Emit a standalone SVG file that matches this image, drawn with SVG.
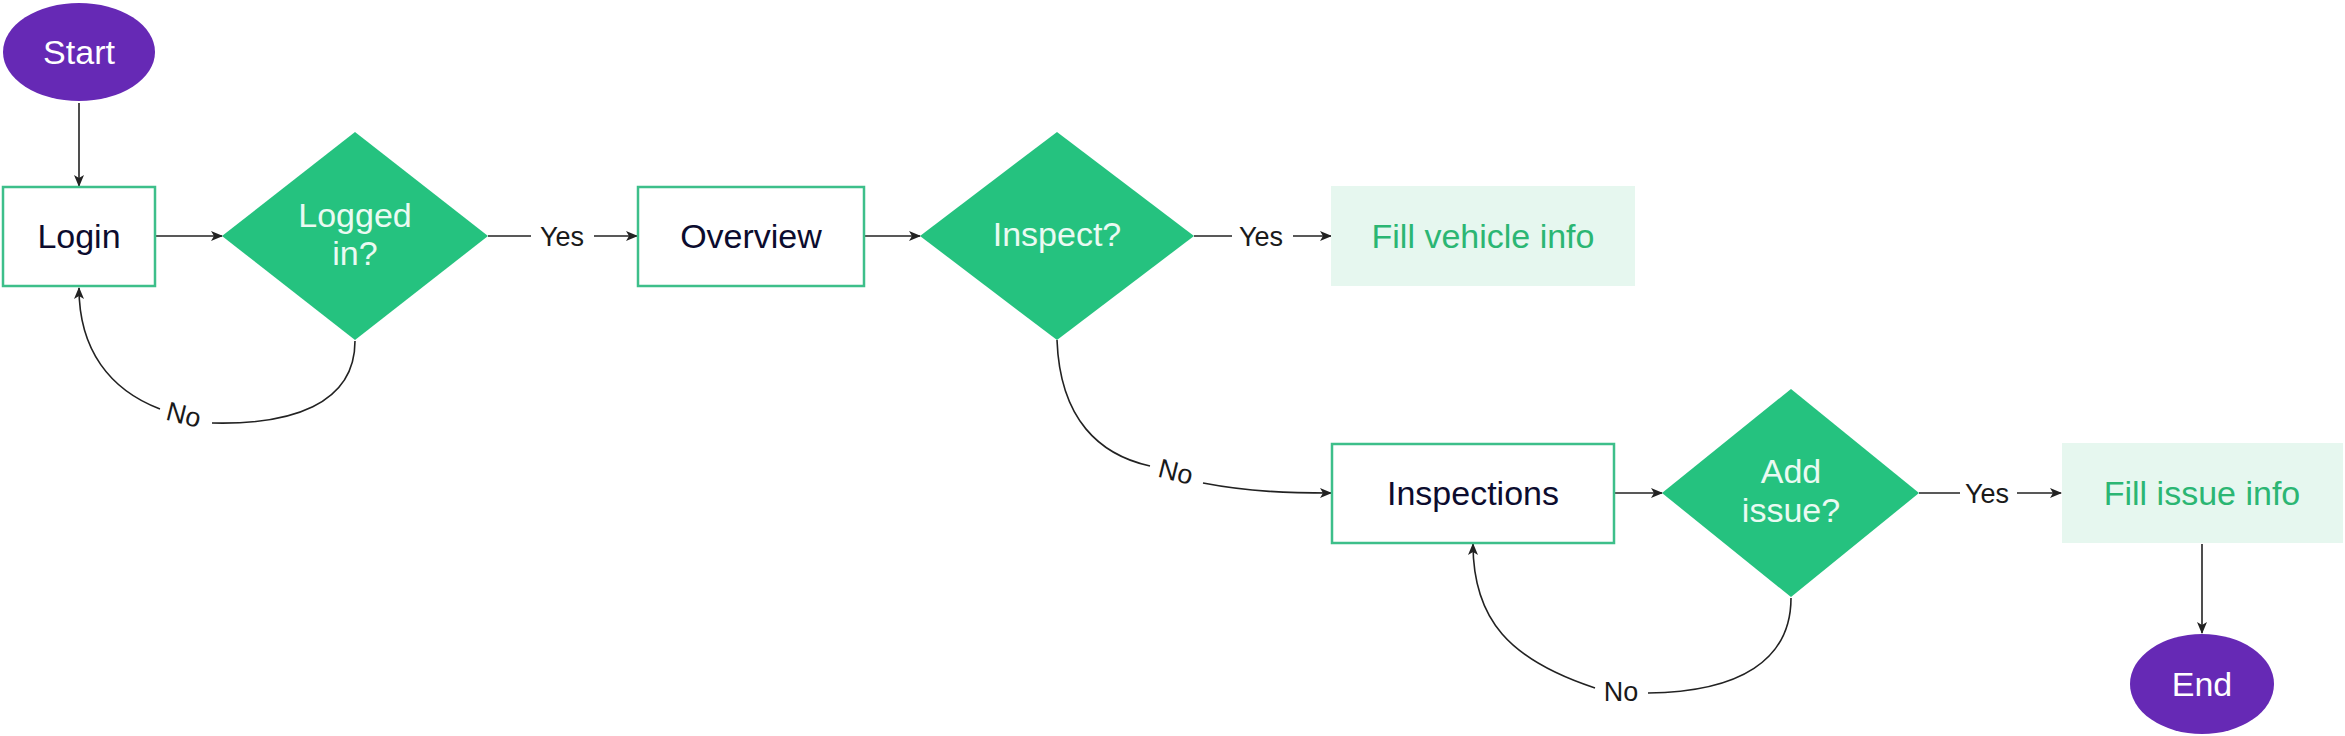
<svg xmlns="http://www.w3.org/2000/svg" width="2345" height="736" viewBox="0 0 2345 736">
<defs>
<marker id="arr" markerUnits="userSpaceOnUse" markerWidth="12" markerHeight="10" refX="11" refY="5" orient="auto">
<path d="M0,0 L12,5 L0,10 L3,5 z" fill="#222"/>
</marker>
<style>
.term{fill:#6629b5}
.termtxt{font-family:"Liberation Sans",Arial,sans-serif;font-size:34px;fill:#ffffff;text-anchor:middle}
.box{fill:#ffffff;stroke:#3dbf8a;stroke-width:2.5}
.boxtxt{font-family:"Liberation Sans",Arial,sans-serif;font-size:34px;fill:#0c0c2e;text-anchor:middle}
.dia{fill:#25c27f}
.diatxt{font-family:"Liberation Sans",Arial,sans-serif;font-size:34px;fill:#eafaf2;text-anchor:middle}
.soft{fill:#e6f7ef}
.softtxt{font-family:"Liberation Sans",Arial,sans-serif;font-size:34px;fill:#2bb673;text-anchor:middle}
.edge{fill:none;stroke:#222;stroke-width:1.6}
.lbl{font-family:"Liberation Sans",Arial,sans-serif;font-size:27px;fill:#1a1a1a;text-anchor:middle}
</style>
</defs>
<rect width="2345" height="736" fill="#ffffff"/>

<g id="connectors">
<path class="edge" d="M79,103 L79,186" marker-end="url(#arr)"/>
<path class="edge" d="M156,236 L222,236" marker-end="url(#arr)"/>
<path class="edge" d="M488,236 L531,236"/>
<text class="lbl" x="562" y="246">Yes</text>
<path class="edge" d="M594,236 L637,236" marker-end="url(#arr)"/>
<path class="edge" d="M865,236 L920,236" marker-end="url(#arr)"/>
<path class="edge" d="M1194,236 L1232,236"/>
<text class="lbl" x="1261" y="246">Yes</text>
<path class="edge" d="M1293,236 L1331,236" marker-end="url(#arr)"/>
<path class="edge" d="M355,341 C355,405 290,425 212,423"/>
<text class="lbl" x="184" y="424" transform="rotate(14 184 414)">No</text>
<path class="edge" d="M160,409 C110,390 79,350 79,288" marker-end="url(#arr)"/>
<path class="edge" d="M1057,340 C1060,420 1100,455 1150,466"/>
<text class="lbl" x="1176" y="481" transform="rotate(14 1176 471)">No</text>
<path class="edge" d="M1203,483 C1250,492 1290,493 1331,493" marker-end="url(#arr)"/>
<path class="edge" d="M1615,493 L1662,493" marker-end="url(#arr)"/>
<path class="edge" d="M1919,493 L1960,493"/>
<text class="lbl" x="1987" y="503">Yes</text>
<path class="edge" d="M2017,493 L2061,493" marker-end="url(#arr)"/>
<path class="edge" d="M1791,598 C1791,660 1740,692 1648,693"/>
<text class="lbl" x="1621" y="701">No</text>
<path class="edge" d="M1595,688 C1510,660 1473,620 1473,544" marker-end="url(#arr)"/>
<path class="edge" d="M2202,544 L2202,633" marker-end="url(#arr)"/>
</g>

<g id="start">
<ellipse class="term" cx="79" cy="52" rx="76" ry="49"/>
<text class="termtxt" x="79" y="64">Start</text>
</g>
<g id="login">
<rect class="box" x="3" y="187" width="152" height="99"/>
<text class="boxtxt" x="79" y="248">Login</text>
</g>
<g id="logged-in">
<polygon class="dia" points="222,236 355,132 488,236 355,340"/>
<text class="diatxt" x="355" y="227">Logged</text>
<text class="diatxt" x="355" y="265">in?</text>
</g>
<g id="overview">
<rect class="box" x="638" y="187" width="226" height="99"/>
<text class="boxtxt" x="751" y="248">Overview</text>
</g>
<g id="inspect">
<polygon class="dia" points="920,236 1057,132 1194,236 1057,340"/>
<text class="diatxt" x="1057" y="246">Inspect?</text>
</g>
<g id="fill-vehicle-info">
<rect class="soft" x="1331" y="186" width="304" height="100"/>
<text class="softtxt" x="1483" y="248">Fill vehicle info</text>
</g>
<g id="inspections">
<rect class="box" x="1332" y="444" width="282" height="99"/>
<text class="boxtxt" x="1473" y="505">Inspections</text>
</g>
<g id="add-issue">
<polygon class="dia" points="1662,493 1791,389 1919,493 1791,597"/>
<text class="diatxt" x="1791" y="483">Add</text>
<text class="diatxt" x="1791" y="522">issue?</text>
</g>
<g id="fill-issue-info">
<rect class="soft" x="2062" y="443" width="281" height="100"/>
<text class="softtxt" x="2202" y="505">Fill issue info</text>
</g>
<g id="end">
<ellipse class="term" cx="2202" cy="684" rx="72" ry="50"/>
<text class="termtxt" x="2202" y="696">End</text>
</g>
</svg>
